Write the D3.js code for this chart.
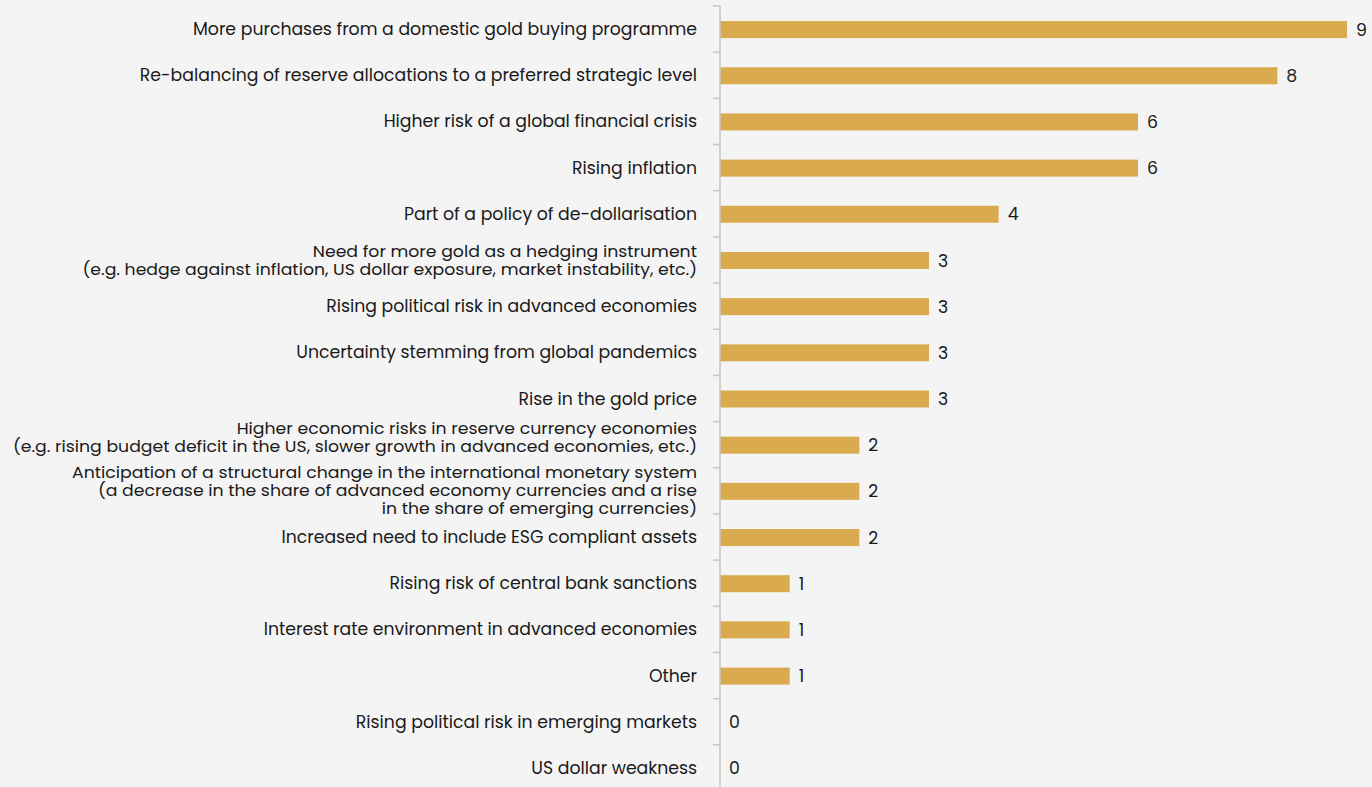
<!DOCTYPE html>
<html>
<head>
<meta charset="utf-8">
<script src="https://cdn.jsdelivr.net/npm/d3@7"></script>
<style>
  html, body { margin: 0; padding: 0; background: #f4f4f4; }
  svg { display: block; font-family: Poppins, Inter, "Noto Sans", sans-serif; }
</style>
</head>
<body>
<svg id="chart" width="1372" height="787"></svg>
<script>
// Reasons for gold reserve purchases: label lines and response counts
const categories = [
  ["More purchases from a domestic gold buying programme"],
  ["Re-balancing of reserve allocations to a preferred strategic level"],
  ["Higher risk of a global financial crisis"],
  ["Rising inflation"],
  ["Part of a policy of de-dollarisation"],
  ["Need for more gold as a hedging instrument", "(e.g. hedge against inflation, US dollar exposure, market instability, etc.)"],
  ["Rising political risk in advanced economies"],
  ["Uncertainty stemming from global pandemics"],
  ["Rise in the gold price"],
  ["Higher economic risks in reserve currency economies", "(e.g. rising budget deficit in the US, slower growth in advanced economies, etc.)"],
  ["Anticipation of a structural change in the international monetary system", "(a decrease in the share of advanced economy currencies and a rise", "in the share of emerging currencies)"],
  ["Increased need to include ESG compliant assets"],
  ["Rising risk of central bank sanctions"],
  ["Interest rate environment in advanced economies"],
  ["Other"],
  ["Rising political risk in emerging markets"],
  ["US dollar weakness"]
];
const values = [9, 8, 6, 6, 4, 3, 3, 3, 3, 2, 2, 2, 1, 1, 1, 0, 0];

const svg = d3.select("#chart");
const axisX = 720, plotTop = 6, plotBottom = 791;
const fontSize = 17.3;
const wrapFontSize = 16;
const labelX = 697;

const keys = categories.map((c, i) => i);
const y = d3.scaleBand().domain(keys).range([plotTop, plotBottom]).paddingInner(0).paddingOuter(0);
const x = d3.scaleLinear().domain([0, 9]).range([axisX, 1347]);

const barH = 17;
const g = svg.append("g");

// bars
g.selectAll("rect.bar").data(values).enter().append("rect")
  .attr("class", "bar")
  .attr("x", x(0))
  .attr("y", (d, i) => y(i) + y.bandwidth() / 2 - barH / 2 + 0.5)
  .attr("width", d => x(d) - x(0))
  .attr("height", barH)
  .attr("fill", "#d9ab4e");

// value labels
g.selectAll("text.val").data(values).enter().append("text")
  .attr("class", "val")
  .attr("x", d => x(d) + 9)
  .attr("y", (d, i) => y(i) + y.bandwidth() / 2 + 0.5)
  .attr("dy", "0.35em")
  .attr("font-size", fontSize)
  .attr("fill", "#1a1a1a")
  .text(d => d);

// category axis with ticks at band edges
const axisG = svg.append("g").attr("transform", `translate(${axisX},0)`);
axisG.append("line")
  .attr("x1", 0).attr("x2", 0).attr("y1", plotTop).attr("y2", 787)
  .attr("stroke", "#c6c6c6").attr("stroke-width", 1.5);
const edges = d3.range(categories.length + 1).map(i => plotTop + i * y.step());
axisG.selectAll("line.tick").data(edges).enter().append("line")
  .attr("class", "tick")
  .attr("x1", -7).attr("x2", 0)
  .attr("y1", d => d).attr("y2", d => d)
  .attr("stroke", "#c6c6c6").attr("stroke-width", 1.5);

// category labels; wrapped labels use a shorter, widened face so stacked lines stay apart,
// and the two-line label above the three-line one is nudged up
const lineH = 18;
const stretch = fontSize / wrapFontSize;
const nudge = (lines, i) => (lines.length === 2 && categories[i + 1] && categories[i + 1].length === 3) ? -7 : 0;
const lab = svg.append("g").selectAll("text.cat").data(categories).enter().append("text")
  .attr("class", "cat")
  .attr("text-anchor", "end")
  .attr("font-size", d => d.length > 1 ? wrapFontSize : fontSize)
  .attr("transform", d => d.length > 1
    ? `translate(${labelX},0) scale(${stretch},1) translate(${-labelX},0)` : null)
  .attr("fill", "#1a1a1a");
lab.each(function(lines, i) {
  const cy = y(i) + y.bandwidth() / 2 + nudge(lines, i);
  const start = cy - (lines.length - 1) * lineH / 2;
  d3.select(this).selectAll("tspan").data(lines).enter().append("tspan")
    .attr("x", labelX)
    .attr("y", (d, j) => start + j * lineH)
    .attr("dy", "0.35em")
    .text(d => d);
});
</script>
</body>
</html>
